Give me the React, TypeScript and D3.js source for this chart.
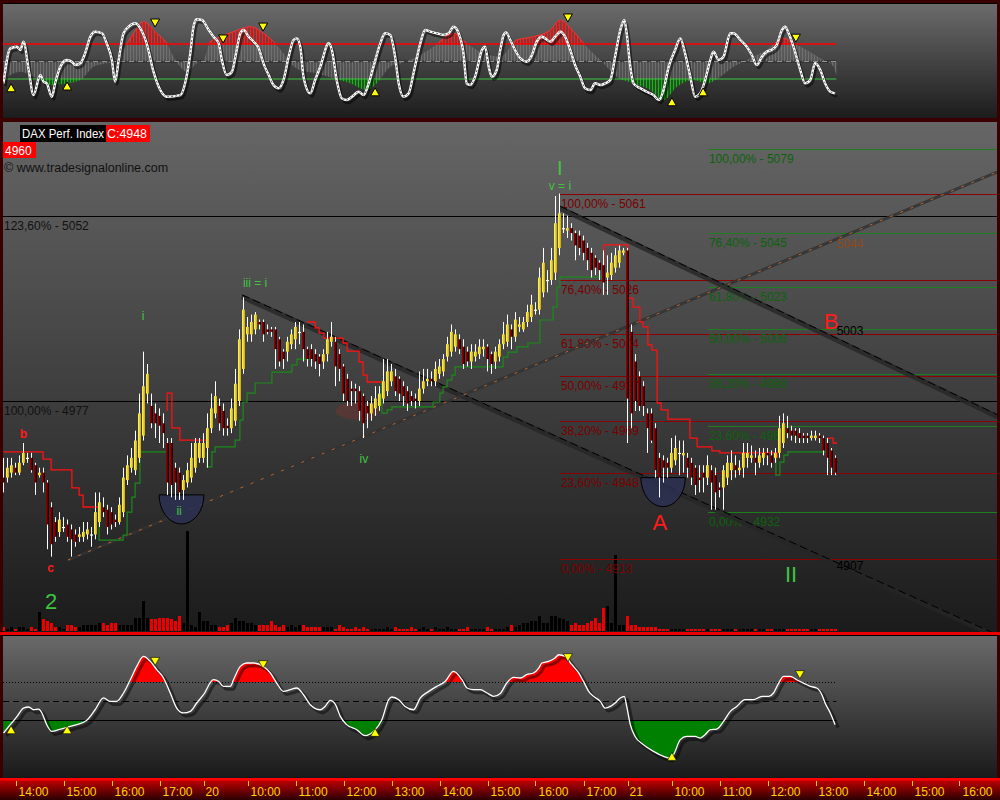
import React from 'react';
import * as d3 from 'd3';

// ---------- price bars (5-minute) ----------
const openP = [
  4946,4946,4948,4950,4948,4952,4954,4954,4951,4947,
  4948,4944,4934,4928,4924,4926,4927,4925,4923,4922,
  4922,4923,4923,4923,4928,4934,4933,4932,4929,4928,
  4932,4945,4950,4949,4954,4963,4980,4975,4972,4971,
  4968,4960,4960,4950,4948,4941,4944,4946,4950,4954,
  4954,4958,4966,4972,4975,4973,4967,4966,4969,4977,
  4990,5004,5004,5006,5009,5009,5006,5006,5006,5002,
  4997,4997,5000,5002,5005,5005,4998,4998,4996,4995,
  4993,4996,5001,5001,4996,4991,4986,4982,4982,4981,
  4979,4975,4972,4974,4975,4978,4981,4985,4987,4986,
  4983,4981,4979,4978,4977,4982,4985,4986,4985,4988,
  4989,4995,4997,4999,5002,4999,4997,4993,4995,4996,
  4998,4999,4996,4993,4995,5000,5001,5006,5003,5007,
  5006,5009,5011,5014,5014,5021,5026,5026,5029,5039,
  5047,5046,5047,5045,5044,5042,5039,5037,5035,5033,
  5032,5027,5028,5031,5033,5037,5038,5005,4993,4987,
  4983,4972,4972,4966,4954,4953,4952,4950,4953,4956,
  4955,4954,4952,4950,4946,4948,4946,4949,4947,4942,
  4942,4946,4949,4951,4949,4950,4954,4954,4954,4952,
  4954,4956,4955,4954,4956,4960,4966,4965,4965,4964,
  4963,4963,4962,4962,4963,4962,4960,4957,4954];
const highP = [
  4954,4954,4954,4952,4955,4960,4956,4956,4952,4950,
  4950,4945,4936,4930,4932,4930,4929,4927,4925,4926,
  4928,4928,4926,4940,4940,4938,4935,4934,4931,4938,
  4950,4955,4958,4965,4980,4997,4992,4980,4976,4974,
  4972,4962,4962,4952,4950,4947,4952,4960,4962,4962,
  4964,4972,4980,4985,4978,4976,4970,4978,4990,5006,
  5019,5011,5012,5013,5010,5010,5008,5007,5007,5003,
  4998,5003,5006,5009,5009,5008,4999,5000,4998,4996,
  4998,5005,5009,5003,4998,4992,4988,4985,4984,4983,
  4980,4977,4979,4983,4983,4994,4994,4992,4990,4987,
  4985,4983,4981,4980,4989,4990,4990,4989,4993,4994,
  4996,5003,5008,5006,5004,5002,4999,5000,5000,5002,
  5002,5000,4997,4999,5002,5009,5012,5008,5013,5011,
  5011,5016,5020,5017,5031,5039,5030,5039,5060,5061,
  5053,5052,5049,5046,5046,5044,5041,5039,5036,5034,
  5038,5036,5037,5039,5040,5039,5039,5008,4996,4989,
  4985,4974,4974,4968,4956,4955,4954,4962,4963,4961,
  4961,4956,4954,4951,4951,4951,4955,4951,4950,4944,
  4951,4955,4957,4955,4953,4960,4960,4959,4957,4958,
  4958,4958,4957,4958,4971,4972,4971,4967,4966,4966,
  4964,4964,4965,4965,4964,4963,4962,4958,4955];
const lowP = [
  4940,4944,4946,4947,4947,4951,4952,4948,4939,4946,
  4940,4917,4914,4920,4922,4924,4920,4914,4918,4920,
  4920,4921,4918,4921,4926,4930,4923,4925,4926,4927,
  4930,4943,4948,4947,4952,4961,4976,4966,4962,4960,
  4958,4939,4938,4937,4937,4937,4942,4944,4948,4952,
  4952,4950,4964,4970,4965,4963,4963,4964,4967,4975,
  4988,5001,5001,5004,5006,5001,5004,5003,4990,4991,
  4990,4993,4998,4998,5000,4993,4991,4991,4990,4987,
  4990,4993,4999,4983,4985,4977,4975,4975,4976,4969,
  4962,4966,4969,4971,4973,4976,4979,4983,4979,4977,
  4975,4973,4975,4974,4975,4980,4983,4983,4983,4986,
  4987,4993,4995,4997,4996,4990,4991,4990,4993,4994,
  4995,4989,4988,4990,4993,4998,4999,4998,5001,5005,
  5005,5007,5009,5012,5012,5019,5021,5024,5026,5036,
  5045,5043,5042,5034,5036,5034,5030,5027,5028,5026,
  5020,5020,5026,5029,5031,5036,4960,4966,4973,4973,
  4971,4956,4960,4946,4938,4944,4946,4948,4951,4947,
  4948,4946,4943,4939,4940,4940,4943,4933,4933,4938,
  4933,4943,4945,4946,4947,4946,4950,4952,4947,4950,
  4951,4951,4950,4952,4954,4958,4962,4961,4960,4960,
  4960,4960,4961,4961,4960,4955,4947,4947,4947];
const closeP = [
  4944,4950,4951,4948,4952,4956,4954,4949,4944,4948,
  4944,4927,4919,4922,4929,4926,4922,4921,4920,4923,
  4924,4925,4923,4932,4936,4932,4926,4927,4928,4935,
  4946,4951,4954,4961,4972,4983,4988,4968,4968,4967,
  4964,4944,4943,4944,4940,4945,4949,4954,4960,4960,
  4960,4966,4974,4979,4968,4966,4966,4974,4984,5002,
  5014,5007,5009,5012,5008,5004,5005,5005,4998,4993,
  4994,5001,5004,5007,5005,4998,4994,4994,4993,4992,
  4996,5002,5003,4991,4990,4980,4977,4981,4981,4973,
  4968,4972,4976,4978,4980,4985,4989,4989,4981,4980,
  4979,4976,4977,4977,4982,4985,4986,4985,4990,4991,
  4994,5000,5005,5004,4998,4992,4993,4997,4997,4999,
  4999,4994,4992,4997,5000,5004,5008,5003,5010,5008,
  5009,5013,5016,5014,5027,5033,5026,5034,5049,5053,
  5047,5047,5045,5040,5039,5037,5034,5030,5031,5030,
  5025,5029,5033,5036,5038,5038,4978,4972,4977,4975,
  4975,4966,4961,4949,4946,4950,4950,4956,4958,4956,
  4956,4950,4946,4943,4945,4946,4951,4944,4940,4941,
  4949,4952,4952,4949,4950,4956,4956,4955,4952,4955,
  4956,4955,4952,4956,4966,4968,4964,4963,4963,4962,
  4962,4962,4963,4963,4962,4957,4954,4950,4948];
const volume = [
  4,2,4,2,4,4,2,4,2,19,
  12,10,8,4,4,2,6,6,4,4,
  6,6,6,6,8,8,6,8,8,6,
  6,6,6,13,13,30,13,12,12,13,
  13,13,12,10,15,8,100,6,4,19,
  10,10,6,6,4,4,6,8,13,10,
  10,8,8,6,6,6,6,10,6,4,
  6,4,6,4,6,6,4,4,4,4,
  4,4,4,2,6,4,2,2,4,2,
  4,2,2,2,2,2,4,2,4,2,
  2,2,4,2,2,4,2,2,4,2,
  2,4,2,2,2,2,4,2,2,2,
  2,4,2,2,2,2,4,6,4,6,
  8,8,10,10,15,8,8,15,15,13,
  12,10,6,8,6,6,8,10,13,8,
  23,25,8,76,6,6,15,6,6,4,
  4,4,4,4,2,2,2,2,2,2,
  2,2,2,2,2,2,2,2,2,2,
  2,2,2,2,2,2,2,2,2,2,
  2,2,2,2,2,2,2,2,2,2,
  2,2,2,2,2,2,2,2,2];

// ---------- time axis ----------
const tickIdx = [3,15,27,39,50,61,73,85,97,109,121,133,145,156,167,179,191,203,215,227,239];
const tickLabel = ['14:00','15:00','16:00','17:00','20','10:00','11:00','12:00','13:00','14:00','15:00','16:00','17:00','21','10:00','11:00','12:00','13:00','14:00','15:00','16:00'];

// ---------- stop lines [fromIdx, toIdx, price] ----------
const redStop: number[][] = [
  [0,9.9,4956.4],[9.9,11.9,4953.5],[11.9,17.1,4949.1],[17.1,18.9,4941.8],[18.9,19.9,4938.9],[19.9,24.1,4934.1],
  [40.9,40.9,4973],[40.9,42.1,4980.2],[42.1,44.1,4966.1],[44.1,50.9,4961.2],
  [75.9,77.9,5009],[77.9,78.9,5006.6],[78.9,80.1,5004.5],[80.1,84.9,5002.5],[84.9,85.9,5000.5],[85.9,88.9,4997.2],[88.9,89.9,4992.8],[89.9,90.9,4987.5],[90.9,94.6,4984.7],
  [150.1,150.1,5026],[150.1,156.1,5040.2],[156.1,157.4,5018.7],[157.4,159.1,5015],[159.1,159.9,5009],[159.9,161.1,5007],[161.1,162.1,4999.7],[162.1,163.4,4997.6],[163.4,164.4,4976.2],[164.4,166.1,4973.4],[166.1,171.6,4969.7],[171.6,173.4,4962],[173.4,177.1,4958.4],[177.1,179.1,4956.8],[179.1,193.4,4956],[193.4,193.6,4954.3],
  [206.1,207.4,4962],[207.4,208.4,4960]];
const greenStop: number[][] = [
  [23.9,23.9,4934.1],[23.9,29.9,4920.7],[29.9,30.9,4922.7],[30.9,32.1,4932],[32.1,32.9,4938.1],[32.9,34.1,4943.8],[34.1,40.9,4956.4],
  [50.9,50.9,4956.4],[50.9,52.1,4950.3],[52.1,52.9,4956.4],[52.9,57.9,4958.4],[57.9,59.1,4961.2],[59.1,59.9,4969.3],[59.9,60.9,4976.6],[60.9,62.9,4980.2],[62.9,67.1,4984.3],[67.1,72.1,4988.7],[72.1,73.4,4991.6],[73.4,76.6,4994],
  [94.6,94.6,4985.5],[94.6,95.9,4972.1],[95.9,97.1,4973.4],[97.1,107.4,4974.6],[107.4,109.1,4976.6],[109.1,109.9,4980.2],[109.9,110.9,4982.7],[110.9,112.1,4985.5],[112.1,112.9,4987.5],[112.9,124.9,4990.8],[124.9,126.1,4994.8],[126.1,128.4,4996.8],[128.4,131.1,4998.9],[131.1,134.1,5000.5],[134.1,137.4,5009.8],[137.4,138.4,5015.1],[138.4,139.1,5023.2],[139.1,149.9,5027.2],
  [193.1,193.1,4956],[193.1,194.1,4947],[194.1,195.1,4952.3],[195.1,196.1,4955.1],[196.1,206.1,4956.4]];

// ---------- fibonacci levels ----------
const fibPct = ['100,00%','76,40%','61,80%','50,00%','38,20%','23,60%','0,00%'];
const redFibVal = [5061,5026,5004,4987,4969,4948,4913];
const greenFibVal = [5079,5045,5023,5006,4988,4967,4932];
const extPct = ['123,60%','100,00%'];
const extVal = [5052,4977];
const redFibStartIdx = 139.1;
const greenFibStartIdx = 176.1;

// ---------- trend lines [idx, price] ----------
const upTrend = [[16.1,4912.6],[248.4,5069.7]];
const downTrend1 = [[59.6,5019.2],[248.5,4881.5]];
const downTrend2 = [[139.1,5055.1],[248.5,4970.6]];

// ---------- wave annotations ----------
const waveText = ['b','c','2','i','ii','iii = i','iv','I','v = i','A','B','II'];
const waveIdx = [5,11.75,11.9,34.9,43.9,62.9,90.1,139.1,139.1,164.1,206.9,196.9];
const wavePrice = [4962,4907.8,4892.8,5009.8,4930.8,5023.2,4951.9,5068.5,5062.6,4924.8,5006.2,4903.7];
const noteText = ['5044','5003','4907'];
const notePrice = [5038.9,5003.7,4908.6];
const noteIdx = 208.3;

// ---------- top oscillator (fast / slow) ----------
const fastIdx = [0,1.7,3.3,4.2,5,6.3,7.5,9.2,10,10.8,12.1,12.9,14.2,15.8,17.1,17.9,19.2,20.4,21.7,22.9,24.6,25.8,27.1,27.9,28.8,30,31.3,32.9,34.2,35.8,37.5,39.2,40.8,44.2,45.4,46.7,47.5,48.3,49.6,51.3,52.5,53.8,54.6,55.8,57.1,58.3,59.2,60,61.3,62.5,63.8,65,66.3,67.5,68.8,70,71.3,72.5,73.3,74.2,75,76.7,77.9,79.2,81.3,82.1,83.3,84.6,85.8,87.1,88.8,90,91.3,92.5,94.2,95.4,96.7,97.9,98.8,100,101.3,102.5,104.2,105.4,106.7,108.3,110,111.3,112.5,113.8,115,115.8,116.7,117.9,119.6,120.4,121.3,122.1,123.3,124.2,125,125.6,126.7,127.9,129.2,130.8,132.1,133.3,134.6,135.4,136.7,137.9,139.2,140.4,141.7,142.9,144.2,145.4,146.7,147.9,149.2,150.4,151.7,152.9,154.2,155.2,155.8,156.7,157.5,159.2,160.8,162.5,163.8,165,166.3,167.9,169.2,170.4,171.7,172.9,174.2,175.4,176.7,177.5,178.8,180,181.7,182.5,184.2,185.8,187.1,188.3,189.6,190.8,191.9,193.3,194.6,195.4,196.3,197.5,199.2,200.4,201.7,202.9,204.2,205.4,206.7,207.9];
const fastVal = [-37.4,22.6,25.4,19.7,34,-14.6,-57.5,-23.2,-34.6,-37.4,-60.4,-37.4,-8.9,2.6,-0.3,-6,-3.1,14,42.5,51.1,48.4,31.2,2.6,-34.6,2.6,48.4,59.7,65.5,56.9,31.2,-17.5,-48.9,-60.4,-57.5,-37.4,14,59.7,72.4,71.2,54,42.5,31.2,2.6,-23.2,-17.5,19.7,48.4,54,42.5,34,22.6,-3.1,-23.2,-40.3,-46,-31.7,8.3,36.9,39.7,25.4,-26,-54.6,-31.7,-8.9,31.2,19.7,-31.7,-63.2,-66,-60.4,-51.8,-57.5,-37.4,-8.9,31.2,48.4,45.6,8.3,-37.4,-60.4,-54.6,-20.3,31.2,54,51.1,48.4,45.6,48.4,59.7,48.4,14,-37.4,-40.3,-26,19.7,25.4,-8.9,-26,-14.6,20,45,50,36.9,19.7,5.5,-0.3,11.1,34,42.5,39.7,34,42.5,51.1,42.5,19.7,-6,-26,-46,-48.9,-37.4,-40.3,-37.4,-31.7,8.3,54,71.2,48.4,-8.9,-37.4,-46,-51.8,-57.5,-66,-48.9,-8.9,19.7,39.7,14,-26,-60.4,-54.6,-31.7,2.6,16.8,2.6,8.3,48.4,48.4,36.9,25.4,11.1,-6,8.3,16.8,19.7,28.3,54,59.7,48.4,25.4,-14.6,-37.4,-31.7,-3.1,-14.6,-37.4,-51.8,-54.6];
const slowIdx = [0,4.2,7.5,11.7,15.8,19.2,22.5,25.8,28.3,30,32.5,35,38.3,40.8,42.5,44.2,45.8,48.3,50,51.7,54.2,57.5,61.7,65,67.5,70,71.7,74.2,78.3,82.5,86.7,90.8,93.3,96.7,99.2,103.3,107.5,112.5,115.8,120,124.2,128.3,132.5,136.7,139.2,142.5,145.8,149.2,150.8,153.3,157.5,161.7,165,168.3,172.5,175.8,179.2,182.5,184.2,187.5,190.8,195,197.5,200.8,204.2,207.5,208.3];
const slowVal = [-31.7,-17.5,-26,-40.3,-37.4,-31.7,-8.9,-3.1,-0.3,19.7,48.4,68.3,48.4,31.2,8.3,-8.9,-17.5,-3.1,2.6,34,42.5,51.1,59.7,48.4,34,14,-3.1,-14.6,-20.3,-28.9,-37.4,-48.9,-37.4,-8.9,-3.1,8.3,25.4,48.4,31.2,14,8.3,36.9,42.5,54,71.2,51.1,25.4,2.6,-8.9,-26,-37.4,-48.9,-66,-43.2,-31.7,-37.4,-26,-8.9,-3.1,8.3,19.7,39.7,31.2,19.7,5.5,-8.9,-26];
const topTriIdx = [37.9,54.9,64.9,141.1,198.1,1.9,15.9,92.9,167.1,174.9];
const topTriVal = [66,38.6,59,74.6,40,-45,-42,-52,-69,-52];
const topTriDown = [true,true,true,true,true,false,false,false,false,false];

// ---------- bottom oscillator ----------
const momIdx = [0,1.7,3.3,5,6.3,7.5,8.8,9.6,10.8,12.1,13.8,15.8,18.3,20.8,22.9,25,26.7,28.3,30,31.7,33.3,35,36.7,38.3,40,40.8,41.7,43.3,45,46.7,48.3,50,52.5,53.8,55,56.7,57.5,59.2,60.8,62.5,65,66.7,68.3,70,71.7,73.3,75,76.7,79.2,80.4,81.7,83,84.2,85.8,88.3,90.4,92.5,94.6,96.3,97.1,98.8,100.4,102.5,104.2,106.3,108.3,110.4,112.5,114.6,115.9,117.5,119.2,120.9,122.5,124.2,125.8,127.5,129.2,130.8,132.5,133.8,134.6,136.3,137.9,138.8,140.4,142.1,143.8,145,146.3,147.5,149.2,150.4,151.7,152.9,154.2,155.2,155.8,156.7,157.9,160,162.5,165,166.3,167.5,169.2,170.8,172.9,174.2,175.4,176.7,178.3,180,181.7,183.3,185.4,187.5,189.6,191.3,192.5,193.8,195,196.7,198.3,200,201.7,203.3,204.6,205.4,206.7,207.9];
const momVal = [-33.7,-24.9,-16.8,-7.4,-6.3,-9.2,-8.6,-12.6,-24.9,-32,-30.2,-27.8,-24.9,-20.4,-9.2,3.2,-0.4,-0.4,8.4,22.4,36.4,47,41.7,33,24.2,17.2,8.4,-7.4,-12.6,-10.9,-2.1,6.6,22.4,20.6,15.4,15.4,22.4,36.4,40,40,36.4,29.5,18.9,10.1,11.9,13.7,6.6,-3.9,-9.2,-5.7,0.6,-3.9,-16.2,-24.9,-30.2,-36.5,-32,-19.7,1.4,4.2,1.4,-5.7,-9.2,3.2,10.1,15.4,20.6,31.2,22.4,13.7,11.9,11.9,8.4,4.9,8,18.9,24.9,24.2,27.7,29.5,34.7,40,41.7,45.3,48.7,47,38.2,29.5,20.6,10.1,4.9,-0.4,-7.4,-5.7,-2.1,3.2,4.9,-5.7,-24.9,-37.3,-46,-53,-58.3,-60,-56.5,-40.7,-37.3,-37.3,-39,-35.5,-30.2,-29.5,-21.5,-10.9,-5.7,1.4,1.4,4.9,4.9,8.4,18.9,25.9,25.9,22.4,18.9,15.4,13.7,6.6,-2.1,-12.6,-24.9];
const botTriIdx = [37.9,64.9,141.1,199.1,1.9,15.9,92.9,167.1];
const botTriVal = [41.7,38.2,45.6,27.7,-30.2,-30.2,-33,-58.3];
const botTriDown = [true,true,true,true,false,false,false,false];

const FONT = '"Liberation Sans", Arial, sans-serif';

export default function App() {
  const xS = d3.scaleLinear().domain([0, 248.5]).range([3.5, 997.5]);
  const yP = d3.scaleLinear().domain([4913, 5079]).range([559.1, 149.1]);
  const yV = d3.scaleLinear().domain([0, 100]).range([631, 531]);
  const yT = d3.scaleLinear().domain([-30, 30]).range([79, 44]);
  const yB = d3.scaleLinear().domain([-20, 20]).range([720, 682]);

  const stepPath = (segs: number[][]) => {
    let d = '';
    let prev: number | null = null;
    segs.forEach(([a, b, v]) => {
      const y = yP(v);
      if (prev !== null && Math.abs(a - prev) < 0.01) d += `V${y}H${xS(b)}`;
      else d += `M${xS(a)},${y}H${xS(b)}`;
      prev = b;
    });
    return d;
  };

  const fastPts = fastIdx.map((x, i) => [x, fastVal[i]] as [number, number]);
  const slowPts = slowIdx.map((x, i) => [x, slowVal[i]] as [number, number]);
  const momPts = momIdx.map((x, i) => [x, momVal[i]] as [number, number]);

  const fastLine = d3.line<[number, number]>().x(d => xS(d[0])).y(d => yT(d[1])).curve(d3.curveMonotoneX);
  const slowArea = d3.area<[number, number]>().x(d => xS(d[0])).y0(yT(0)).y1(d => yT(d[1])).curve(d3.curveMonotoneX);
  const slowLine = d3.line<[number, number]>().x(d => xS(d[0])).y(d => yT(d[1])).curve(d3.curveMonotoneX);
  const momLine = d3.line<[number, number]>().x(d => xS(d[0])).y(d => yB(d[1])).curve(d3.curveMonotoneX);
  const momAreaUp = d3.area<[number, number]>().x(d => xS(d[0])).y0(yB(20)).y1(d => yB(d[1])).curve(d3.curveMonotoneX);
  const momAreaDn = d3.area<[number, number]>().x(d => xS(d[0])).y0(yB(-20)).y1(d => yB(d[1])).curve(d3.curveMonotoneX);

  const tri = (x: number, y: number, down: boolean) =>
    down ? `M${x - 4.5},${y - 4}L${x + 4.5},${y - 4}L${x},${y + 4}Z` : `M${x - 4.5},${y + 4}L${x + 4.5},${y + 4}L${x},${y - 4}Z`;

  const lineEnd = xS(208.2);
  const semi = (ci: number, hw: number, top: number, bottom: number) => {
    const x0 = xS(ci - hw), x1 = xS(ci + hw), yt = yP(top), yb = yP(bottom);
    return `M${x0},${yt}A${(x1 - x0) / 2},${yb - yt} 0 0 0 ${x1},${yt}Z`;
  };

  const waveStyle = (t: string) => {
    const red = t === 'b' || t === 'c' || t === 'A' || t === 'B';
    const big = t === '2' || t === 'A' || t === 'B' || t === 'II';
    const size = t === 'I' ? 20 : big ? 22 : 12;
    return { fill: red ? '#ff1a1a' : '#3fc43f', size, weight: (t === 'b' || t === 'c') ? 700 : 400 };
  };

  const lvUp = yB(20), lvMid = yB(0), lvDn = yB(-20);

  return (
    <svg width={1000} height={800} style={{ position: 'absolute', left: 0, top: 0, display: 'block' }} fontFamily={FONT}>
      <defs>
        <linearGradient id="topBg" x1="0" y1="0" x2="0" y2="1">
          <stop offset="0" stopColor="#6c6c6c" /><stop offset="1" stopColor="#1c1c1c" />
        </linearGradient>
        <linearGradient id="mainBg" x1="0" y1="0" x2="0" y2="1">
          <stop offset="0" stopColor="#666666" /><stop offset="1" stopColor="#1b1b1b" />
        </linearGradient>
        <linearGradient id="botBg" x1="0" y1="0" x2="0" y2="1">
          <stop offset="0" stopColor="#6a6a6a" /><stop offset="1" stopColor="#1a1a1a" />
        </linearGradient>
        <linearGradient id="axisBg" x1="0" y1="0" x2="0" y2="1">
          <stop offset="0" stopColor="#d00000" /><stop offset="1" stopColor="#2a0000" />
        </linearGradient>
        <linearGradient id="upG" x1="0" y1="0" x2="1" y2="0">
          <stop offset="0" stopColor="#ffff60" /><stop offset="1" stopColor="#d0a000" />
        </linearGradient>
        <linearGradient id="dnG" x1="0" y1="0" x2="1" y2="0">
          <stop offset="0" stopColor="#a00000" /><stop offset="1" stopColor="#1a0000" />
        </linearGradient>
        <pattern id="pGray" width="3" height="4" patternUnits="userSpaceOnUse">
          <rect x="1" y="0" width="1" height="4" fill="#7a7a7a" />
        </pattern>
        <pattern id="pRed" width="3" height="4" patternUnits="userSpaceOnUse">
          <rect x="1" y="0" width="1" height="4" fill="#ff2020" />
        </pattern>
        <pattern id="pGreen" width="3" height="4" patternUnits="userSpaceOnUse">
          <rect x="1" y="0" width="1" height="4" fill="#20b020" />
        </pattern>
        <clipPath id="clipTop"><rect x="3" y="3" width="994" height="115" /></clipPath>
        <clipPath id="clipMain"><rect x="3" y="123" width="994" height="509" /></clipPath>
        <clipPath id="clipBot"><rect x="3" y="636" width="994" height="142" /></clipPath>
        <clipPath id="clipTopRed"><rect x="3" y="3" width="994" height={yT(30) - 3} /></clipPath>
        <clipPath id="clipTopGreen"><rect x="3" y={yT(-30)} width="994" height={118 - yT(-30)} /></clipPath>
        <clipPath id="clipBotRed"><rect x="3" y="636" width="994" height={lvUp - 636} /></clipPath>
        <clipPath id="clipBotGreen"><rect x="3" y={lvDn + 1} width="994" height={778 - lvDn - 1} /></clipPath>
      </defs>

      {/* frame */}
      <rect x={0} y={0} width={1000} height={800} fill="#3a0000" />
      <rect x={3} y={3} width={994} height={115} fill="url(#topBg)" />
      <line x1={3} x2={997} y1={3.5} y2={3.5} stroke="#000" />
      <rect x={3} y={122} width={994} height={510} fill="url(#mainBg)" />
      <rect x={0} y={632} width={1000} height={3} fill="#e80000" />
      <rect x={3} y={635} width={994} height={143} fill="url(#botBg)" />
      <line x1={3} x2={997} y1={635.5} y2={635.5} stroke="#000" />
      <rect x={0} y={778} width={1000} height={22} fill="url(#axisBg)" />
      <rect x={0} y={778} width={1000} height={2.5} fill="#ff0000" />

      {/* ================= TOP PANEL ================= */}
      <g clipPath="url(#clipTop)">
        <rect x={3} y={yT(0) - 1.5} width={lineEnd - 3} height={3} fill="#2a2a2a" opacity={0.6} />
        <line x1={3} x2={lineEnd} y1={yT(0)} y2={yT(0)} stroke="#9a9a9a" strokeDasharray="5,4" />
        <path d={slowArea(slowPts) || ''} fill="#8a8a8a" opacity={0.25} />
        <path d={slowArea(slowPts) || ''} fill="url(#pGray)" opacity={0.7} />
        <g clipPath="url(#clipTopRed)">
          <path d={slowArea(slowPts) || ''} fill="#b00000" opacity={0.45} />
          <path d={slowArea(slowPts) || ''} fill="url(#pRed)" />
          <path d={slowLine(slowPts) || ''} fill="none" stroke="#ff3030" strokeWidth={1} />
        </g>
        <g clipPath="url(#clipTopGreen)">
          <path d={slowArea(slowPts) || ''} fill="#006000" opacity={0.6} />
          <path d={slowArea(slowPts) || ''} fill="url(#pGreen)" />
        </g>
        <line x1={3} x2={lineEnd} y1={yT(30)} y2={yT(30)} stroke="#ff0000" strokeWidth={1.5} />
        <line x1={3} x2={lineEnd} y1={yT(-30)} y2={yT(-30)} stroke="#3cc83c" strokeWidth={1} />
        <path d={fastLine(fastPts) || ''} fill="none" stroke="#000" strokeOpacity={0.5} strokeWidth={2.5} transform="translate(2,3)" />
        <path d={fastLine(fastPts) || ''} fill="none" stroke="#ffffff" strokeWidth={2.4} />
        <path d={fastLine(fastPts) || ''} fill="none" stroke="#3a3a3a" strokeWidth={0.8} strokeDasharray="2,2" />
        {topTriIdx.map((ix, i) => (
          <path key={'tt' + i} d={tri(xS(ix), yT(topTriVal[i]), topTriDown[i])} fill="#ffff00" stroke="#000" strokeWidth={1} />
        ))}
      </g>

      {/* ================= MAIN PANEL ================= */}
      <g clipPath="url(#clipMain)">
        {/* volume */}
        {volume.map((v, i) => (
          <rect key={'v' + i} x={xS(i) - 1.5} y={yV(v)} width={3} height={yV(0) - yV(v)}
            fill={closeP[i] < openP[i] ? '#ee0000' : '#000000'} />
        ))}

        {/* extension levels (black) */}
        {extVal.map((v, i) => (
          <g key={'ex' + i}>
            <line x1={3} x2={997} y1={Math.round(yP(v)) + 0.5} y2={Math.round(yP(v)) + 0.5} stroke="#000" />
            <text x={4} y={yP(v) + 14} fontSize={12} fill="#111">{`${extPct[i]} - ${v}`}</text>
          </g>
        ))}

        {/* red fib */}
        {redFibVal.map((v, i) => (
          <g key={'rf' + i}>
            <line x1={xS(redFibStartIdx)} x2={997} y1={Math.round(yP(v)) + 0.5} y2={Math.round(yP(v)) + 0.5} stroke="#8e0000" />
            <text x={xS(redFibStartIdx) + 1} y={yP(v) + 14} fontSize={12} fill="#7a0000">{`${fibPct[i]} - ${v}`}</text>
          </g>
        ))}
        {/* green fib */}
        {greenFibVal.map((v, i) => (
          <g key={'gf' + i}>
            <line x1={xS(greenFibStartIdx)} x2={997} y1={Math.round(yP(v)) + 0.5} y2={Math.round(yP(v)) + 0.5} stroke="#1c7e1c" />
            <text x={xS(greenFibStartIdx) + 1} y={yP(v) + 14} fontSize={12} fill="#0c630c">{`${fibPct[i]} - ${v}`}</text>
          </g>
        ))}

        {/* ellipse at iv */}
        <ellipse cx={xS(88.5)} cy={yP(4973)} rx={xS(5.5) - xS(0)} ry={yP(4973) - yP(4976.6)} fill="#7a3030" opacity={0.45} />

        {/* trend lines */}
        {[downTrend1, downTrend2].map((t, i) => (
          <g key={'dt' + i}>
            <line x1={xS(t[0][0])} y1={yP(t[0][1])} x2={xS(t[1][0])} y2={yP(t[1][1])} stroke="#262626" strokeOpacity={0.8} strokeWidth={5} />
            <line x1={xS(t[0][0])} y1={yP(t[0][1]) - 2} x2={xS(t[1][0])} y2={yP(t[1][1]) - 2} stroke="#000" strokeWidth={1} strokeDasharray="8,4" />
          </g>
        ))}
        <line x1={xS(upTrend[0][0])} y1={yP(upTrend[0][1])} x2={xS(upTrend[1][0])} y2={yP(upTrend[1][1])} stroke="#333" strokeOpacity={0.85} strokeWidth={3} />
        <line x1={xS(upTrend[0][0])} y1={yP(upTrend[0][1])} x2={xS(upTrend[1][0])} y2={yP(upTrend[1][1])} stroke="#c0642a" strokeWidth={1} strokeDasharray="3,8" />

        {/* semicircles */}
        <path d={semi(44.5, 5.6, 4939, 4927.2)} fill="#2c3052" fillOpacity={0.85} stroke="#000" strokeWidth={1} />
        <path d={semi(164.9, 5.55, 4946, 4934.2)} fill="#2c3052" fillOpacity={0.85} stroke="#000" strokeWidth={1} />

        {/* stop lines */}
        <path d={stepPath(greenStop)} fill="none" stroke="#1a8a1a" strokeWidth={1.2} />
        <path d={stepPath(redStop)} fill="none" stroke="#ff1010" strokeWidth={1.3} />

        {/* candles */}
        {closeP.map((c, i) => {
          const o = openP[i];
          const x = xS(i);
          const yt = yP(Math.max(o, c));
          const yb = yP(Math.min(o, c));
          const h = Math.max(1.2, yb - yt);
          const fill = o === c ? '#ffffff' : c > o ? 'url(#upG)' : 'url(#dnG)';
          return (
            <g key={'c' + i}>
              <line x1={x} x2={x} y1={yP(highP[i])} y2={yP(lowP[i])} stroke="#ffffff" strokeWidth={1} />
              <rect x={x - 1.5} y={yt} width={3} height={h} fill={fill} />
            </g>
          );
        })}

        {/* wave labels */}
        {waveText.map((t, i) => {
          const s = waveStyle(t);
          return (
            <text key={'w' + i} x={xS(waveIdx[i])} y={yP(wavePrice[i])} textAnchor="middle" fontSize={s.size} fontWeight={s.weight} fill={s.fill}>{t}</text>
          );
        })}
        {noteText.map((t, i) => (
          <text key={'n' + i} x={xS(noteIdx)} y={yP(notePrice[i])} fontSize={12} fill={i === 0 ? '#8e4a1c' : '#000'}>{t}</text>
        ))}

        {/* header */}
        <rect x={20} y={125} width={86} height={17} fill="#000" />
        <text x={22} y={137.5} fontSize={12} fill="#fff" textLength={82} lengthAdjust="spacingAndGlyphs">DAX Perf. Index</text>
        <rect x={106} y={125} width={44} height={17} fill="#ff0000" />
        <text x={107} y={137.5} fontSize={12} fill="#fff" textLength={40} lengthAdjust="spacingAndGlyphs">C:4948</text>
        <rect x={3} y={142} width={33} height={16} fill="#ff0000" />
        <text x={5} y={154.5} fontSize={12} fill="#fff">4960</text>
        <text x={4} y={172} fontSize={12.5} fill="#111">© www.tradesignalonline.com</text>
      </g>

      {/* ================= BOTTOM PANEL ================= */}
      <g clipPath="url(#clipBot)">
        <g clipPath="url(#clipBotRed)">
          <path d={momAreaUp(momPts) || ''} fill="#ff0000" />
        </g>
        <g clipPath="url(#clipBotGreen)">
          <path d={momAreaDn(momPts) || ''} fill="#008000" />
        </g>
        <line x1={3} x2={lineEnd} y1={lvUp + 0.5} y2={lvUp + 0.5} stroke="#000" strokeDasharray="1,2" />
        <line x1={3} x2={lineEnd} y1={lvMid + 0.5} y2={lvMid + 0.5} stroke="#000" strokeWidth={1.2} strokeDasharray="6,4" />
        <line x1={3} x2={lineEnd} y1={lvDn + 0.5} y2={lvDn + 0.5} stroke="#000" strokeWidth={1.2} />
        <path d={momLine(momPts) || ''} fill="none" stroke="#000" strokeOpacity={0.45} strokeWidth={3} transform="translate(3,3)" />
        <path d={momLine(momPts) || ''} fill="none" stroke="#ffffff" strokeWidth={1.3} />
        {botTriIdx.map((ix, i) => (
          <path key={'bt' + i} d={tri(xS(ix), yB(botTriVal[i]), botTriDown[i])} fill="#ffff00" stroke="#000" strokeWidth={0.6} />
        ))}
      </g>

      {/* ================= TIME AXIS ================= */}
      {tickIdx.map((ix, i) => (
        <g key={'tk' + i}>
          <line x1={Math.round(xS(ix)) + 0.5} x2={Math.round(xS(ix)) + 0.5} y1={781} y2={786} stroke="#f0d000" />
          <text x={xS(ix) + (tickLabel[i].length < 3 ? 2 : 3)} y={796} fontSize={12} fill="#ffd400">{tickLabel[i]}</text>
        </g>
      ))}
    </svg>
  );
}
